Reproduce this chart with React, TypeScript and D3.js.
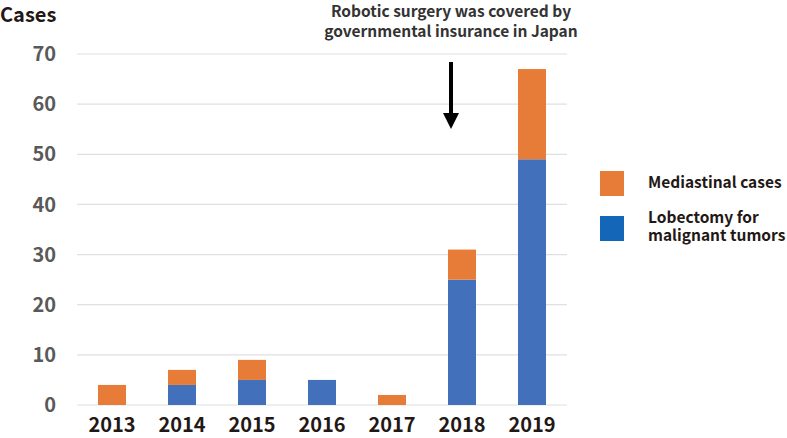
import React from "react";
import * as d3 from "d3";

const years = ["2013", "2014", "2015", "2016", "2017", "2018", "2019"];
const lobectomy = [0, 4, 5, 5, 0, 25, 49];
const mediastinal = [4, 3, 4, 0, 2, 6, 18];
const yTicks = [0, 10, 20, 30, 40, 50, 60, 70];
const legendLabels = [["Mediastinal cases"], ["Lobectomy for", "malignant tumors"]];
const annotation = ["Robotic surgery was covered by", "governmental insurance in Japan"];

const W = 787, H = 438;
const FONT = "'Noto Sans CJK JP', 'Noto Sans', sans-serif";
const ORANGE = "#E67C37";
const BLUE = "#4370BA";
const LEGEND_BLUE = "#1466B8";

export default function App() {
  const x = d3.scaleBand().domain(years).range([77, 567]).paddingInner(0.6).paddingOuter(0.3);
  const y = d3.scaleLinear().domain([0, 70]).range([405, 54]);
  const stackData = years.map((yr, i) => ({ year: yr, lob: lobectomy[i], med: mediastinal[i] }));
  const series = d3.stack<any>().keys(["lob", "med"])(stackData as any);
  const colors: Record<string, string> = { lob: BLUE, med: ORANGE };
  const arrowX = 451;

  return (
    <svg width={W} height={H} style={{ position: "absolute", left: 0, top: 0, background: "#fff" }} fontFamily={FONT}>
      {yTicks.map((t) => (
        <g key={t}>
          <line x1={77} x2={567} y1={y(t)} y2={y(t)} stroke="#E0E0E0" strokeWidth={1.2} />
          <text x={56} y={y(t)} dy="0.36em" textAnchor="end" fontSize={20} fontWeight="bold" fill="#595959">{t}</text>
        </g>
      ))}
      {series.map((s) =>
        s.map((d: any, i: number) =>
          d[1] - d[0] > 0 ? (
            <rect key={s.key + i} x={x(years[i])} width={x.bandwidth()} y={y(d[1])} height={y(d[0]) - y(d[1])} fill={colors[s.key]} />
          ) : null
        )
      )}
      {years.map((yr) => (
        <text key={yr} x={x(yr)! + x.bandwidth() / 2} y={432} textAnchor="middle" fontSize={20} fontWeight="bold" fill="#231815">{yr}</text>
      ))}
      <text x={0} y={22} fontSize={20} fontWeight="bold" fill="#231815">Cases</text>
      {annotation.map((l, i) => (
        <text key={i} x={arrowX} y={17 + i * 20} textAnchor="middle" fontSize={15.5} fontWeight="bold" fill="#333">{l}</text>
      ))}
      <line x1={arrowX} x2={arrowX} y1={62} y2={114} stroke="#000" strokeWidth={4} />
      <path d={`M${arrowX - 8},${113} L${arrowX + 8},${113} L${arrowX},${129} Z`} fill="#000" />
      <rect x={600} y={171} width={24} height={25} fill={ORANGE} />
      <rect x={600} y={216} width={24} height={25} fill={LEGEND_BLUE} />
      {legendLabels.map((lines, i) => (
        <text key={i} x={648} y={i === 0 ? 188 : 223} fontSize={15.5} fontWeight="bold" fill="#231815">
          {lines.map((l, j) => (
            <tspan key={j} x={648} dy={j === 0 ? 0 : 18}>{l}</tspan>
          ))}
        </text>
      ))}
    </svg>
  );
}
